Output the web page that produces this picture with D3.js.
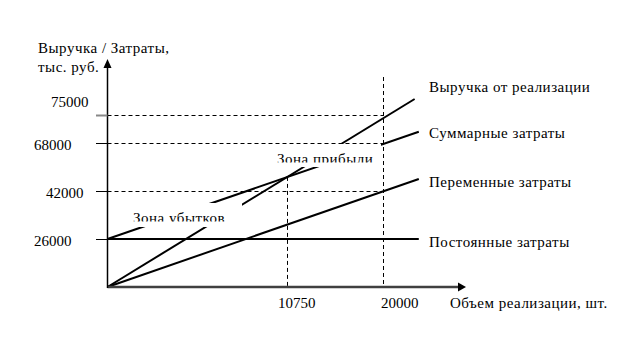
<!DOCTYPE html>
<html>
<head>
<meta charset="utf-8">
<script src="https://cdn.jsdelivr.net/npm/d3@7"></script>
<style>
  body { margin: 0; background: #fff; }
  text { font-family: "Liberation Serif", "Times New Roman", serif; font-size: 15px; fill: #000; }
  text.words { letter-spacing: 0.5px; }
</style>
</head>
<body>
<div id="chart"></div>
<script>
// data (schematic break-even chart)
const yTicks = [26000, 42000, 68000, 75000];
const xTicks = [10750, 20000];
const seriesNames = ["Выручка от реализации", "Суммарные затраты", "Переменные затраты", "Постоянные затраты"];
const revenue = [[0, 0], [23000, 79000]];
const totalCosts = [[0, 26000], [23400, 70800]];
const variableCosts = [[0, 0], [23400, 48500]];
const fixedCosts = [[0, 26000], [23400, 26000]];
const zoneNames = ["Зона убытков", "Зона прибыли"];

const svg = d3.select("#chart").append("svg").attr("width", 624).attr("height", 354);

// the original axes are not to scale, so piecewise scales through the tick points
const x = d3.scaleLinear().domain([0, 10750, 20000]).range([107.5, 287.5, 383.5]);
const y = d3.scaleLinear().domain([0, 26000, 42000, 68000, 75000]).range([287, 239, 191, 143, 115]);

const line = d3.line().x(d => x(d[0])).y(d => y(d[1]));

// dashed guides
const dash = svg.append("g").attr("stroke", "#000").attr("stroke-width", 1).attr("stroke-dasharray", "4,3");
[42000, 68000, 75000].forEach(v => {
  dash.append("line").attr("x1", x(0)).attr("x2", x(20000)).attr("y1", Math.round(y(v)) + 0.5).attr("y2", Math.round(y(v)) + 0.5);
});
dash.append("line").attr("x1", x(20000)).attr("x2", x(20000)).attr("y1", 77).attr("y2", y(0));

// break-even point from the two lines in pixel space
function at(series, px) {
  const p0 = [x(series[0][0]), y(series[0][1])], p1 = [x(series[1][0]), y(series[1][1])];
  return p0[1] + (p1[1] - p0[1]) * (px - p0[0]) / (p1[0] - p0[0]);
}
const beY = (at(revenue, x(10750)) + at(totalCosts, x(10750))) / 2;
dash.append("line").attr("x1", x(10750)).attr("x2", x(10750)).attr("y1", beY).attr("y2", y(0));

// series lines
const lines = svg.append("g").attr("fill", "none").attr("stroke", "#000").attr("stroke-width", 2);
[revenue, totalCosts, variableCosts, fixedCosts].forEach(s => {
  lines.append("path").attr("d", line(s));
});

// zone labels sit in white boxes that hide the lines behind them
const zones = [
  {box: [128, 203, 114, 24], tx: 133, ty: 223, clip: 221.5},
  {box: [270, 144, 111, 23], tx: 277, ty: 163.5, clip: 162.5}
];
zones.forEach((z, i) => {
  svg.append("rect").attr("x", z.box[0]).attr("y", z.box[1]).attr("width", z.box[2]).attr("height", z.box[3]).attr("fill", "#fff");
  svg.append("clipPath").attr("id", "zc" + i)
    .append("rect").attr("x", z.box[0]).attr("y", z.box[1]).attr("width", z.box[2]).attr("height", z.clip - z.box[1]);
  svg.append("text").attr("class", "words").attr("x", z.tx).attr("y", z.ty).attr("clip-path", `url(#zc${i})`).text(zoneNames[i]);
});

// axes
svg.append("line").attr("x1", x(0)).attr("x2", 458).attr("y1", y(0)).attr("y2", y(0))
  .attr("stroke", "#404040").attr("stroke-width", 2.5);
svg.append("path").attr("d", "M458,282.5L466,287L458,291.5Z").attr("fill", "#000");
svg.append("line").attr("x1", x(0)).attr("x2", x(0)).attr("y1", y(0) + 1).attr("y2", 67)
  .attr("stroke", "#000").attr("stroke-width", 1.5);
svg.append("path").attr("d", "M103.5,68L107.5,59L111.5,68Z").attr("fill", "#000");

// y ticks and labels
const yLabelX = {26000: 34, 42000: 46, 68000: 34, 75000: 51};
const yLabelDy = {26000: 7, 42000: 7, 68000: 7, 75000: -8};
yTicks.forEach(v => {
  const py = Math.round(y(v)) + 0.5;
  svg.append("line").attr("x1", 96).attr("x2", x(0)).attr("y1", py).attr("y2", py)
    .attr("stroke", v === 75000 ? "#888" : "#000").attr("stroke-width", v === 75000 ? 2 : 1);
  svg.append("text").attr("x", yLabelX[v]).attr("y", y(v) + yLabelDy[v]).text(v);
});

// x labels
const xLabelDx = {10750: -9.5, 20000: -2.5};
xTicks.forEach(v => {
  svg.append("text").attr("x", x(v) + xLabelDx[v]).attr("y", 308).text(v);
});

// axis titles
svg.append("text").attr("class", "words").attr("x", 38).attr("y", 53).text("Выручка / Затраты,");
svg.append("text").attr("class", "words").attr("x", 38).attr("y", 72).text("тыс. руб.");
svg.append("text").attr("class", "words").attr("x", 450).attr("y", 308).text("Объем реализации, шт.");

// series names at the right ends
const nameY = [92, 138, 187, 247];
seriesNames.forEach((n, i) => {
  svg.append("text").attr("class", "words").attr("x", 429).attr("y", nameY[i]).text(n);
});
</script>
</body>
</html>
